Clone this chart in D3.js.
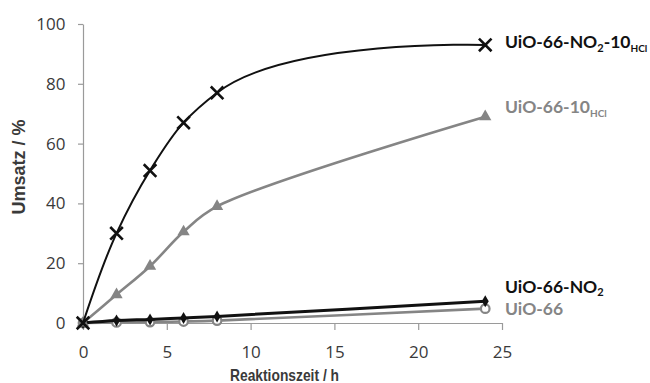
<!DOCTYPE html>
<html><head><meta charset="utf-8">
<script src="https://cdn.jsdelivr.net/npm/d3@7"></script>
<style>body{margin:0;background:#fff}svg{display:block}</style>
</head><body><svg id="c" width="650" height="383"></svg>
<script>
const hours = [0, 2, 4, 6, 8, 24];
const no2hcl = [0, 30, 51, 67, 77, 93];
const uio66hcl = [0, 9.5, 19, 30.5, 39, 69];
const no2 = [0, 0.8, 1.2, 1.7, 2.2, 7.3];
const uio66 = [0, 0.2, 0.3, 0.5, 0.8, 4.8];
const xTicks = [0, 5, 10, 15, 20, 25];
const yTicks = [0, 20, 40, 60, 80, 100];

const svg = d3.select("#c");
const x = d3.scaleLinear().domain([0, 25]).range([83, 502]);
const y = d3.scaleLinear().domain([0, 100]).range([323, 24]);
const axisCol = "#9a9a9a", txtCol = "#3a3a3a", gray = "#858585";

const gx = svg.append("g").attr("transform", "translate(0,323)")
  .call(d3.axisBottom(x).tickValues(xTicks).tickSize(7).tickPadding(16).tickSizeOuter(0));
const gy = svg.append("g").attr("transform", "translate(83,0)")
  .call(d3.axisLeft(y).tickValues(yTicks).tickSize(5).tickPadding(12.5).tickSizeOuter(0));
[gx, gy].forEach(g => {
  g.selectAll("path,line").attr("stroke", axisCol).attr("stroke-width", 1.2);
  g.selectAll("text").attr("fill", txtCol).style("font-size", "17px").style("font-family", "'Open Sans', sans-serif");
});

svg.append("text").attr("x", 284.5).attr("y", 380.5).attr("text-anchor", "middle")
  .attr("font-family", "'Liberation Sans', Arial, sans-serif")
  .attr("font-weight", "bold").attr("font-size", 17).attr("fill", txtCol)
  .attr("textLength", 109).attr("lengthAdjust", "spacingAndGlyphs").text("Reaktionszeit / h");
svg.append("text").attr("transform", "translate(25,167) rotate(-90)").attr("text-anchor", "middle")
  .attr("font-family", "'Liberation Sans', Arial, sans-serif")
  .attr("font-weight", "bold").attr("font-size", 18).attr("fill", txtCol).text("Umsatz / %");

const series = [
  {vals: uio66, color: gray, w: 2.6, m: "circle", alpha: 0.5},
  {vals: no2, color: "#111", w: 3, m: "diamond", alpha: 0.5},
  {vals: uio66hcl, color: gray, w: 2.6, m: "triangle", alpha: 0.5},
  {vals: no2hcl, color: "#111", w: 2, m: "x", alpha: 1},
];
series.forEach(s => {
  const pts = hours.map((h, i) => [x(h), y(s.vals[i])]);
  const line = d3.line().curve(d3.curveCatmullRom.alpha(s.alpha));
  svg.append("path").attr("d", line(pts)).attr("fill", "none")
    .attr("stroke", s.color).attr("stroke-width", s.w);
  const g = svg.append("g");
  pts.forEach(p => {
    if (s.m === "x") {
      g.append("path").attr("d", d3.symbol(d3.symbolTimes, 105)())
        .attr("transform", `translate(${p[0]},${p[1]})`).attr("stroke", s.color).attr("stroke-width", 2.6).attr("fill", "none");
    } else if (s.m === "triangle") {
      g.append("path").attr("d", d3.symbol(d3.symbolTriangle, 65)())
        .attr("transform", `translate(${p[0]},${p[1]})`).attr("fill", s.color);
    } else if (s.m === "diamond") {
      g.append("path").attr("d", d3.symbol(d3.symbolDiamond, 42)())
        .attr("transform", `translate(${p[0]},${p[1]})`).attr("fill", s.color);
    } else {
      g.append("circle").attr("cx", p[0]).attr("cy", p[1]).attr("r", 4.3)
        .attr("fill", "#fff").attr("stroke", s.color).attr("stroke-width", 2.2);
    }
  });
});

const lf = "Lato, 'Open Sans', sans-serif";
function lbl(yy, color) {
  return svg.append("text").attr("x", 505).attr("y", yy).attr("font-family", lf)
    .attr("font-weight", "bold").attr("font-size", 17.5).attr("fill", color);
}
let t = lbl(48.3, "#111");
t.append("tspan").text("UiO-66-NO");
t.append("tspan").attr("font-size", 11).attr("dy", 3.5).text("2");
t.append("tspan").attr("dy", -3.5).text("-10");
t.append("tspan").attr("font-size", 10).attr("dy", 3.5).text("HCl");
t = lbl(113.3, gray);
t.append("tspan").text("UiO-66-10");
t.append("tspan").attr("font-size", 10).attr("dy", 3.5).text("HCl");
t = lbl(292.7, "#111");
t.append("tspan").text("UiO-66-NO");
t.append("tspan").attr("font-size", 11).attr("dy", 3.5).text("2");
lbl(315, gray).text("UiO-66");
</script></body></html>
